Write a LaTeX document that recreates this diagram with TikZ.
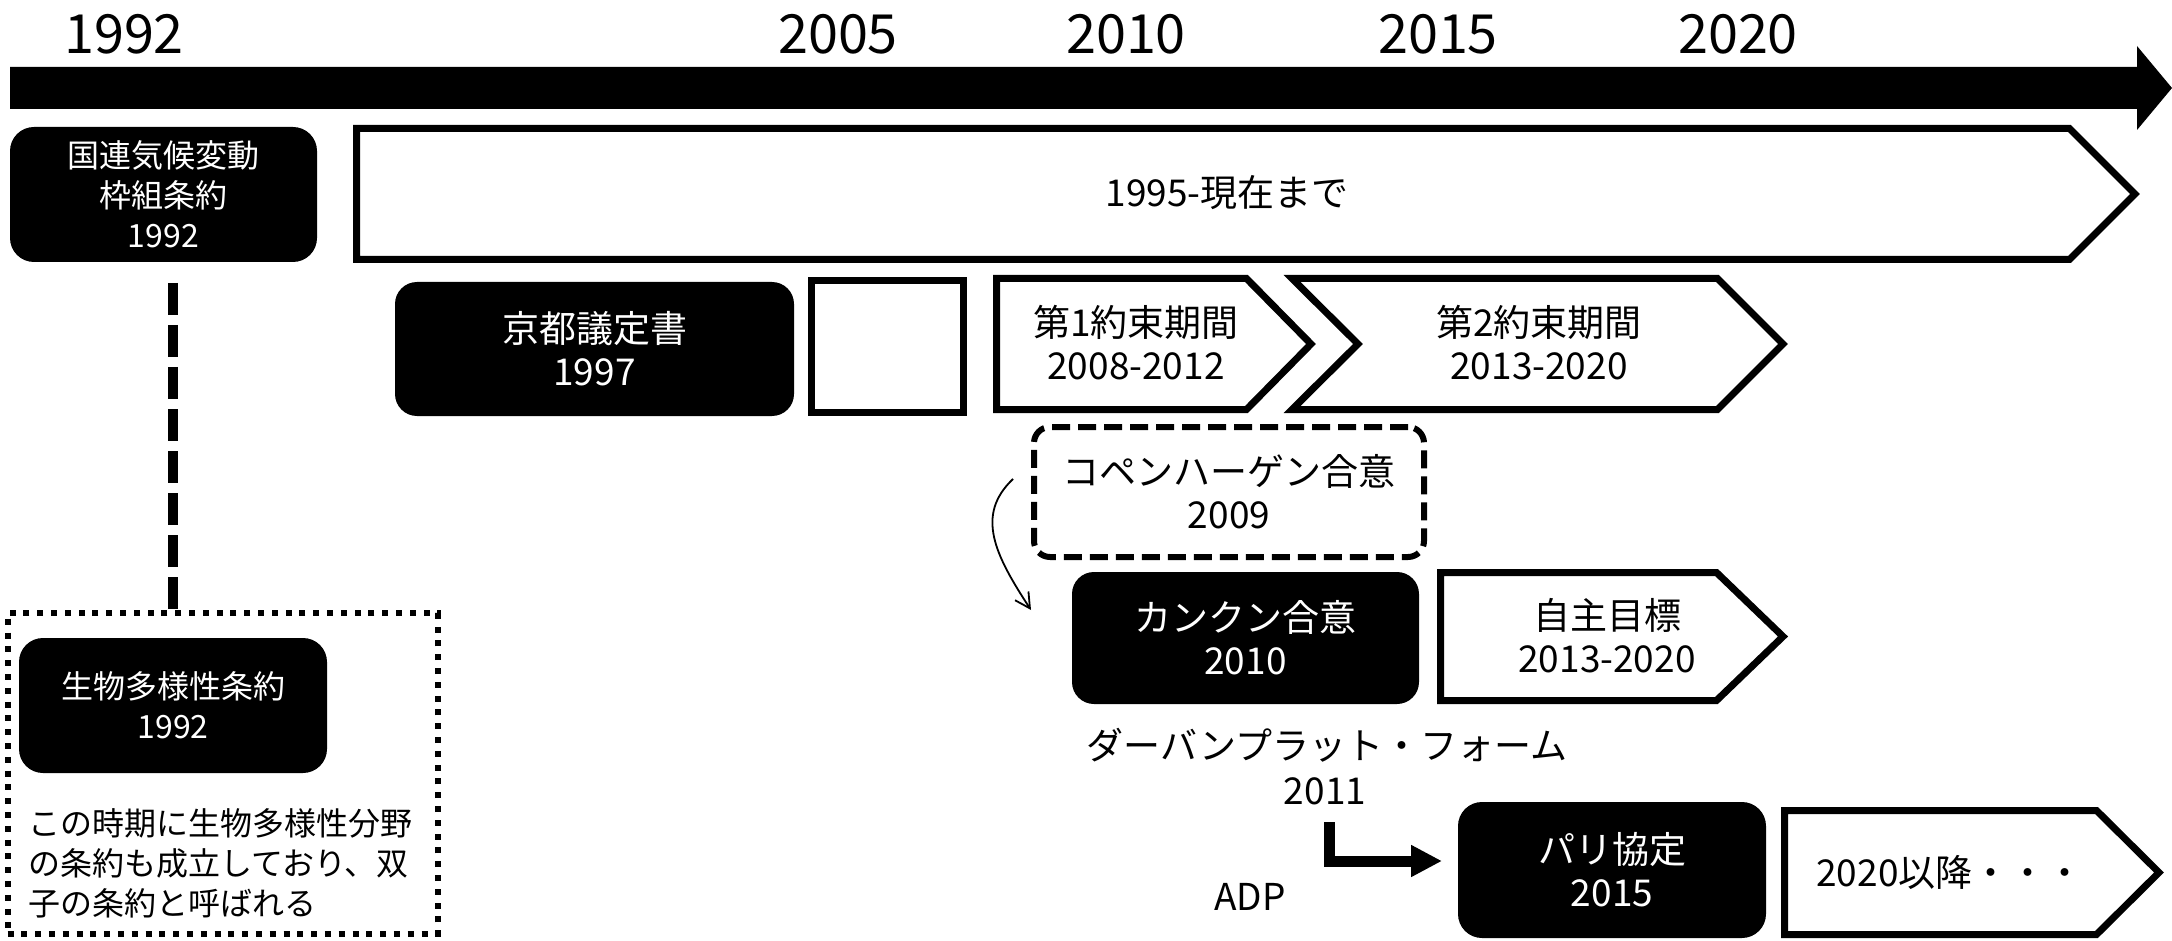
\documentclass[tikz,border=0pt]{standalone}
\usepackage{fontspec}
\setmainfont{Noto Sans CJK JP}
\usetikzlibrary{arrows.meta}
\newcommand\fbig{\fontsize{37}{43}\selectfont}
\newcommand\fsml{\fontsize{32}{40}\selectfont}
\newcommand\fyr{\fontsize{54}{60}\selectfont}
\begin{document}
\begin{tikzpicture}[x=1pt,y=-1pt,
  blk/.style={fill=black, rounded corners=24pt, text=white, align=center, inner sep=0pt},
  txt/.style={align=center, inner sep=0pt},
  yr/.style={font=\fyr, inner sep=0pt},
  outl/.style={draw, line width=7pt, line join=miter, fill=white}]
\useasboundingbox (0,0) rectangle (2172,941);
% year labels
\node[yr] (y1992) at (124,34) {1992};
\node[yr] (y2005) at (838,34) {2005};
\node[yr] (y2010) at (1126,34) {2010};
\node[yr] (y2015) at (1438,34) {2015};
\node[yr] (y2020) at (1738,34) {2020};
% timeline arrow
\fill (10,67) -- (2137,67) -- (2137,46) -- (2172,88) -- (2137,130) -- (2137,109) -- (10,109) -- cycle;
% UNFCCC
\node[blk, font=\fsml, minimum width=307pt, minimum height=135pt] (unfccc) at (163.5,194.5) {国連気候変動\\枠組条約\\1992};
% 1995 bar
\draw[outl] (356.5,128.5) -- (2069.5,128.5) -- (2135,194) -- (2069.5,259.5) -- (356.5,259.5) -- cycle;
\node[txt, font=\fbig] (p1995) at (1227,193) {1995-現在まで};
% Kyoto
\node[blk, font=\fbig, rounded corners=22pt, minimum width=399pt, minimum height=134pt] (kyoto) at (594.5,349) {京都議定書\\1997};
\node[draw, line width=7pt, minimum width=152pt, minimum height=132pt, inner sep=0pt] (blank) at (887.5,346.5) {};
% commitment periods
\draw[outl] (996.5,278.5) -- (1246.5,278.5) -- (1311,344) -- (1246.5,409.5) -- (996.5,409.5) -- cycle;
\node[txt, font=\fbig] (k1) at (1136,343) {第1約束期間\\2008-2012};
\draw[outl] (1292,278.5) -- (1717.5,278.5) -- (1783,344) -- (1717.5,409.5) -- (1292,409.5) -- (1358,344) -- cycle;
\node[txt, font=\fbig] (k2) at (1539,343) {第2約束期間\\2013-2020};
% Copenhagen
\node[txt, font=\fbig, draw, line width=6pt, dash pattern=on 18pt off 8pt, rounded corners=16pt, minimum width=390pt, minimum height=130pt] (cph) at (1229,492) {コペンハーゲン合意\\2009};
\coordinate (ca1) at (1013,479);
\coordinate (ca2) at (1031,610);
\draw[line width=1.8pt, -{Straight Barb[length=15pt,width=16pt]}] (ca1) .. controls (975,515) and (995,555) .. (ca2);
% Cancun
\node[blk, font=\fbig, rounded corners=22pt, minimum width=347pt, minimum height=132pt] (cancun) at (1245.5,638) {カンクン合意\\2010};
\draw[outl] (1440.5,572.5) -- (1716.5,572.5) -- (1783,636.5) -- (1716.5,700.5) -- (1440.5,700.5) -- cycle;
\node[txt, font=\fbig] (jishu) at (1607,636) {自主目標\\2013-2020};
% Durban
\node[txt, font=\fbig] (dur) at (1327,745) {ダーバンプラット・フォーム};
\node[txt, font=\fbig] (dur11) at (1325,791) {2011};
\node[txt, font=\fbig] (adp) at (1250,897) {ADP};
\coordinate (l1) at (1329.5,822);
\coordinate (l2) at (1442,861);
\draw[line width=11pt, line join=miter, -{Triangle[length=31pt,width=30pt]}] (l1) |- (l2);
% Paris
\node[blk, font=\fbig, minimum width=308pt, minimum height=136pt] (paris) at (1612,870) {パリ協定\\2015};
\draw[outl] (1784.5,810.5) -- (2096.5,810.5) -- (2159,872.5) -- (2096.5,934.5) -- (1784.5,934.5) -- cycle;
\node[txt, font=\fbig] (after) at (1950,872) {2020以降・・・};
% biodiversity
\node[draw, line width=6pt, dash pattern=on 6pt off 7.8pt, minimum width=430pt, minimum height=321pt, inner sep=0pt] (dotbox) at (222.5,773.5) {};
\coordinate (dv) at (173,283);
\draw[line width=10pt, dash pattern=on 32pt off 10pt] (dv) -- (dv |- dotbox.north);
\node[blk, font=\fsml, minimum width=308pt, minimum height=135pt] (cbd) at (173,705.5) {生物多様性条約\\1992};
\node[font=\fsml, align=left, anchor=west, inner sep=0pt] (note) at (28,863) {この時期に生物多様性分野\\の条約も成立しており、双\\子の条約と呼ばれる};
\end{tikzpicture}
\end{document}
